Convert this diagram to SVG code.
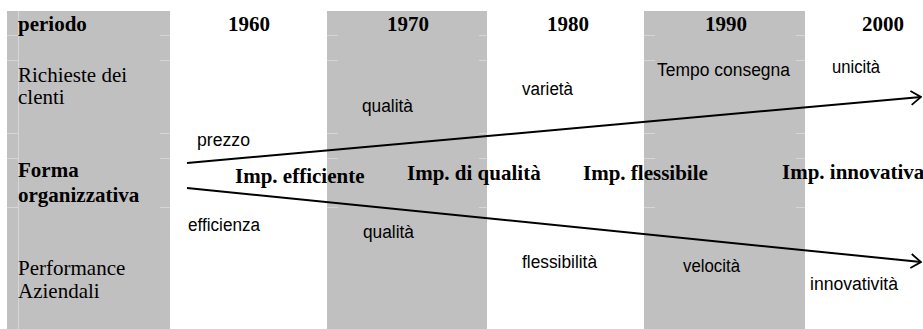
<svg xmlns="http://www.w3.org/2000/svg" width="923" height="329" viewBox="0 0 923 329">
<defs>
<style>
.col{fill:#c0c0c0}
.grid{stroke:#d6d6d6;stroke-width:1;fill:none}
.hd{font-family:"Liberation Serif","Times New Roman",serif;font-weight:bold;font-size:21px;fill:#000}
.rw{font-family:"Liberation Serif","Times New Roman",serif;font-size:21px;fill:#000}
.lb{font-family:"Liberation Sans",Arial,sans-serif;font-size:18px;fill:#000}
.ln{stroke:#000;stroke-width:2;fill:none}
</style>
<marker id="open" viewBox="0 0 12 16" refX="11" refY="8" markerWidth="12" markerHeight="16" markerUnits="userSpaceOnUse" orient="auto">
<polyline points="1,1 11,8 1,15" fill="none" stroke="#000" stroke-width="1.8"/>
</marker>
</defs>
<g id="background">
<rect class="col" x="7" y="11" width="163" height="318"/>
<rect class="col" x="327" y="11" width="160" height="318"/>
<rect class="col" x="644" y="11" width="161" height="318"/>
<path class="grid" d="M18.5 11V329 M7 35.5H18 M160 35.5H170 M7 60.5H18 M160 60.5H170 M7 133.5H18 M160 133.5H170 M7 158.5H18 M160 158.5H170 M7 207.5H18 M160 207.5H170 M327 35.5H338 M479 35.5H487 M327 60.5H338 M479 60.5H487 M327 133.5H338 M479 133.5H487 M327 158.5H338 M479 158.5H487 M327 207.5H338 M479 207.5H487 M644 35.5H655 M796 35.5H805 M644 60.5H655 M796 60.5H805 M644 133.5H655 M796 133.5H805 M644 158.5H655 M796 158.5H805 M644 207.5H655 M796 207.5H805"/>
</g>
<g id="header">
<text class="hd" x="18" y="31">periodo</text>
<text class="hd" x="228" y="31">1960</text>
<text class="hd" x="387" y="31">1970</text>
<text class="hd" x="547" y="31">1980</text>
<text class="hd" x="705" y="31">1990</text>
<text class="hd" x="862" y="31">2000</text>
</g>
<g id="row-richieste">
<text class="rw" x="18" y="82">Richieste dei</text>
<text class="rw" x="18" y="104">clenti</text>
</g>
<g id="row-forma">
<text class="hd" x="18" y="177">Forma</text>
<text class="hd" x="18" y="202">organizzativa</text>
</g>
<g id="row-performance">
<text class="rw" x="18" y="275">Performance</text>
<text class="rw" x="18" y="298">Aziendali</text>
</g>
<g id="connectors">
<line class="ln" x1="187" y1="163" x2="921" y2="97" marker-end="url(#open)"/>
<line class="ln" x1="187" y1="188" x2="921" y2="262" marker-end="url(#open)"/>
</g>
<g id="requests">
<text class="lb" x="197" y="146" textLength="53" lengthAdjust="spacingAndGlyphs">prezzo</text>
<text class="lb" x="362" y="112" textLength="51" lengthAdjust="spacingAndGlyphs">qualità</text>
<text class="lb" x="522" y="95" textLength="51" lengthAdjust="spacingAndGlyphs">varietà</text>
<text class="lb" x="657" y="76" textLength="133" lengthAdjust="spacingAndGlyphs">Tempo consegna</text>
<text class="lb" x="832" y="73" textLength="48" lengthAdjust="spacingAndGlyphs">unicità</text>
</g>
<g id="forms">
<text class="hd" x="235" y="183">Imp. efficiente</text>
<text class="hd" x="407" y="180">Imp. di qualità</text>
<text class="hd" x="583" y="180">Imp. flessibile</text>
<text class="hd" x="782" y="179">Imp. innovativa</text>
</g>
<g id="performance">
<text class="lb" x="188" y="231" textLength="72" lengthAdjust="spacingAndGlyphs">efficienza</text>
<text class="lb" x="363" y="238" textLength="51" lengthAdjust="spacingAndGlyphs">qualità</text>
<text class="lb" x="522" y="268" textLength="75" lengthAdjust="spacingAndGlyphs">flessibilità</text>
<text class="lb" x="683" y="272" textLength="57" lengthAdjust="spacingAndGlyphs">velocità</text>
<text class="lb" x="810" y="290" textLength="88" lengthAdjust="spacingAndGlyphs">innovatività</text>
</g>
</svg>
